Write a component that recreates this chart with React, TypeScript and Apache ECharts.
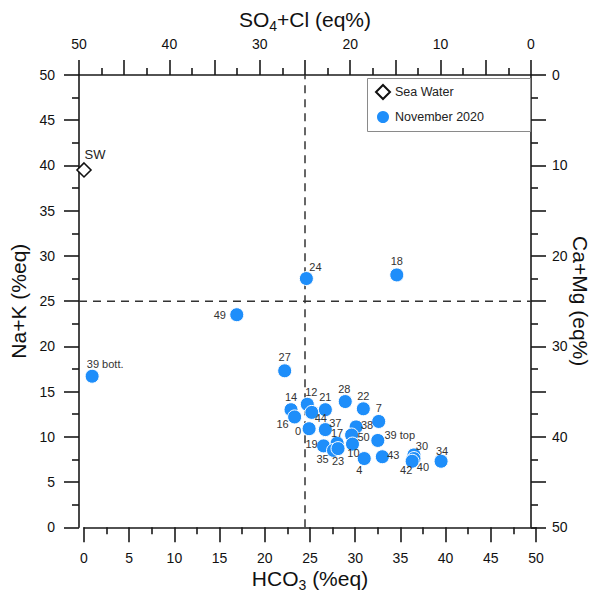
import React, { useEffect, useRef } from 'react';
import * as echarts from 'echarts';

// ---- data ----
const sampleNames = ['18', '24', '49', '39 bott.', '27', '14', '16', '12', '44', '21', '28', '22', '7', '0', '37', '38', '50', '10', '39 top', '19', '17', '35', '23', '4', '43', '30', '40', '42', '34'];
const hco3Values = [34.6, 24.6, 16.9, 0.9, 22.2, 22.9, 23.3, 24.7, 25.2, 26.7, 28.9, 30.9, 32.6, 24.9, 26.7, 30.1, 29.6, 29.7, 32.5, 26.5, 28.0, 27.6, 28.1, 31.0, 33.0, 36.5, 36.5, 36.3, 39.5];
const naKValues = [27.9, 27.5, 23.5, 16.7, 17.3, 13.0, 12.2, 13.6, 12.7, 13.0, 13.9, 13.1, 11.7, 10.9, 10.8, 11.1, 10.2, 9.2, 9.6, 9.0, 9.3, 8.5, 8.7, 7.6, 7.8, 8.0, 7.6, 7.3, 7.3];
const seaWater = { name: 'SW', hco3: 0, naK: 39.5 };
const axisTicks = { min: 0, max: 50, step: 5 };
const thresholdValue = 25;

// label placement (pixel offsets from marker centre) — layout only
const labelOffsets: [number, number][] = [
  [0, -14], [9, -12], [-17, 0], [13, -12], [0, -14],
  [0, -13], [-12, 7], [4, -12], [9, 6], [0, -13],
  [-1, -13], [0, -13], [0, -13], [-11, 2], [10, -7],
  [11, -2], [12, 2], [1, 9], [22, -5], [-12, -2],
  [0, -10], [-11, 9], [0, 12], [-5, 11], [11, -2],
  [8, -9], [9, 8], [-6, 9], [1, -10],
];

const FONT = 'Liberation Sans, Arial, sans-serif';
const AXIS_COLOR = '#1a1a1a';

export default function App() {
  const ref = useRef<HTMLDivElement>(null);

  useEffect(() => {
    if (!ref.current) return;
    const chart = echarts.init(ref.current, undefined, { renderer: 'svg' });

    const titleStyle = {
      fontSize: 21,
      lineHeight: 24,
      color: '#111',
      fontFamily: FONT,
      rich: {
        m: { fontSize: 21, lineHeight: 24, verticalAlign: 'top', color: '#111', fontFamily: FONT },
        sub: { fontSize: 14, lineHeight: 14, verticalAlign: 'bottom', padding: [12, 0, 0, 0], color: '#111', fontFamily: FONT },
      },
    };

    const commonAxis = (labelFilter: (v: number) => boolean) => ({
      type: 'value',
      min: axisTicks.min,
      max: axisTicks.max,
      interval: axisTicks.step,
      splitLine: { show: false },
      axisLine: { show: true, onZero: false, lineStyle: { color: AXIS_COLOR, width: 1.6 } },
      axisTick: { show: true, inside: false, length: 15, lineStyle: { color: AXIS_COLOR, width: 1.6 } },
      minorTick: { show: true, splitNumber: 2, length: 7, lineStyle: { color: AXIS_COLOR, width: 1.6 } },
      minorSplitLine: { show: false },
      axisLabel: {
        show: true,
        margin: 24,
        fontSize: 14,
        color: '#111',
        fontFamily: FONT,
        formatter: (v: number) => (labelFilter(v) ? String(v) : ''),
      },
      nameLocation: 'middle',
      nameMoveOverlap: false,
      nameTextStyle: titleStyle,
    });

    const every5 = () => true;
    const every10 = (v: number) => v % 10 === 0;

    const points = sampleNames.map((n, i) => ({
      name: n,
      value: [hco3Values[i], naKValues[i]],
      label: {
        show: true,
        position: 'inside',
        offset: labelOffsets[i],
      },
    }));

    const option: any = {
      animation: false,
      backgroundColor: '#fff',
      grid: [
        { left: 84, width: 452, top: 75, bottom: 71.7, containLabel: false, outerBoundsMode: 'none' },
        { left: 79, width: 452, top: 75, bottom: 71.7, containLabel: false, outerBoundsMode: 'none' },
      ],
      xAxis: [
        {
          ...commonAxis(every5),
          gridIndex: 0,
          position: 'bottom',
          name: '{m|HCO}{sub|3}{m| (%eq)}',
          nameGap: 41,
        },
        {
          ...commonAxis(every10),
          gridIndex: 1,
          position: 'top',
          inverse: true,
          name: '{m|SO}{sub|4}{m|+Cl (eq%)}',
          nameGap: 42,
        },
      ],
      yAxis: [
        {
          type: 'value',
          gridIndex: 0,
          min: axisTicks.min,
          max: axisTicks.max,
          show: false,
          splitLine: { show: false },
        },
        {
          ...commonAxis(every5),
          gridIndex: 1,
          position: 'left',
          name: 'Na+K (%eq)',
          nameGap: 49,
          nameRotate: 90,
        },
        {
          ...commonAxis(every10),
          gridIndex: 1,
          position: 'right',
          inverse: true,
          name: 'Ca+Mg (eq%)',
          nameGap: 37,
          nameRotate: -90,
          axisLabel: {
            show: true,
            margin: 21,
            fontSize: 14,
            color: '#111',
            fontFamily: FONT,
            formatter: (v: number) => (every10(v) ? String(v) : ''),
          },
        },
      ],
      legend: {
        data: ['Sea Water', 'November 2020'],
        orient: 'vertical',
        left: 375,
        top: 84,
        itemGap: 9,
        itemWidth: 14,
        itemHeight: 14,
        padding: 0,
        z: 10,
        textStyle: { fontSize: 12.5, color: '#222', fontFamily: FONT },
      },
      graphic: [
        {
          type: 'rect',
          z: 5,
          shape: { x: 367.5, y: 78.5, width: 163, height: 53 },
          style: { fill: '#fff', stroke: '#8a8a8a', lineWidth: 1 },
        },
      ],
      series: [
        {
          name: 'threshold-v',
          type: 'line',
          xAxisIndex: 1,
          yAxisIndex: 1,
          data: [[thresholdValue, axisTicks.min], [thresholdValue, axisTicks.max]],
          symbol: 'none',
          silent: true,
          lineStyle: { color: '#333', width: 1.5, type: [8, 6] },
          z: 1,
        },
        {
          name: 'threshold-h',
          type: 'line',
          xAxisIndex: 1,
          yAxisIndex: 1,
          data: [[axisTicks.max, thresholdValue], [axisTicks.min, thresholdValue]],
          symbol: 'none',
          silent: true,
          lineStyle: { color: '#333', width: 1.5, type: [8, 6] },
          z: 1,
        },
        {
          name: 'Sea Water',
          type: 'scatter',
          xAxisIndex: 0,
          yAxisIndex: 0,
          symbol: 'diamond',
          symbolSize: [14, 14],
          itemStyle: { color: '#fff', borderColor: '#111', borderWidth: 1.6, opacity: 1 },
          data: [{ name: seaWater.name, value: [seaWater.hco3, seaWater.naK] }],
          label: {
            show: true,
            position: 'inside',
            offset: [11, -15],
            formatter: '{b}',
            fontSize: 13,
            color: '#222',
            fontFamily: FONT,
          },
          z: 3,
        },
        {
          name: 'November 2020',
          type: 'scatter',
          xAxisIndex: 0,
          yAxisIndex: 0,
          symbol: 'circle',
          symbolSize: 14,
          itemStyle: { color: '#1E8EFA', borderColor: '#fff', borderWidth: 1, opacity: 1 },
          data: points,
          label: {
            show: true,
            position: 'inside',
            formatter: '{b}',
            fontSize: 11,
            color: '#333',
            fontFamily: FONT,
          },
          z: 3,
        },
      ],
    };

    chart.setOption(option);
    return () => chart.dispose();
  }, []);

  return (
    <div
      ref={ref}
      style={{ position: 'absolute', left: 0, top: 0, width: 594, height: 599 }}
    />
  );
}
